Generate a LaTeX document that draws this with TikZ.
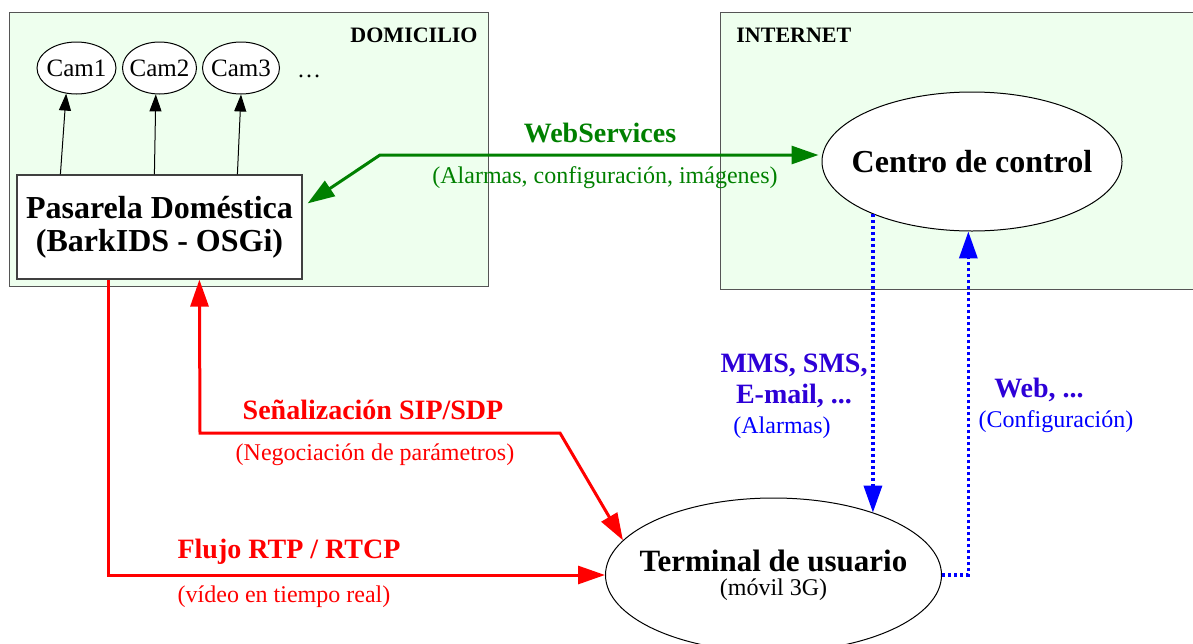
\documentclass[tikz,border=0pt]{standalone}
\usepackage{fontspec}
\setmainfont{Liberation Serif}
\usetikzlibrary{arrows.meta,shapes.geometric,calc}
\definecolor{clfill}{RGB}{238,255,238}
\definecolor{clline}{RGB}{85,85,85}
\definecolor{gvgreen}{RGB}{0,128,0}
\definecolor{gvred}{RGB}{255,0,0}
\definecolor{gvblue}{RGB}{0,0,255}
\definecolor{lblblue}{RGB}{45,0,215}
\begin{document}
\begin{tikzpicture}[x=0.5pt,y=-0.5pt,
  cluster/.style={draw=clline, fill=clfill, line width=0.6pt, anchor=north west, inner sep=0pt},
  clusterlbl/.style={font=\fontsize{11}{13}\selectfont\bfseries, inner sep=0pt},
  cam/.style={ellipse, draw=black, fill=white, line width=0.5pt, inner sep=0pt,
    minimum height=26pt},
  camtext/.style={font=\fontsize{12.5}{14}\selectfont, inner sep=0pt},
  mainbox/.style={rectangle, draw=black!75, fill=white, line width=0.6pt, inner sep=0pt,
    align=center, font=\fontsize{16}{16.5}\selectfont\bfseries},
  mainell/.style={ellipse, draw=black, fill=white, line width=0.5pt, inner sep=0pt},
  elltext/.style={inner sep=0pt, align=center},
  boldlbl/.style={font=\fontsize{14}{15.5}\selectfont\bfseries, inner sep=0pt, anchor=base},
  plainlbl/.style={font=\fontsize{12}{14}\selectfont, inner sep=0pt, anchor=base},
  camarrow/.style={draw=black, line width=0.5pt, -{Triangle[length=8.5pt,width=6pt]}},
  greenline/.style={draw=gvgreen, line width=1.5pt},
  redline/.style={draw=gvred, line width=1.5pt},
  blueline/.style={draw=gvblue, line width=1.7pt, dash pattern=on 1.5pt off 1.5pt}
]
\useasboundingbox (0,0) rectangle (1193,643);

% clusters
\node (dom) [cluster, minimum width=239.5pt, minimum height=137pt] at (9,12) {};
\node (domlbl) [clusterlbl, anchor=base east] at (478,42) {DOMICILIO};
\node (inet) [cluster, minimum width=237pt, minimum height=138.5pt] at (720,12) {};
\node (inetlbl) [clusterlbl, anchor=base west] at (736,42) {INTERNET};

% nodes
\node (cam1) [cam, minimum width=39.5pt,
  label={[camtext]center:Cam1}] at (76.5,68) {};
\node (cam2) [cam, minimum width=37pt,
  label={[camtext]center:Cam2}] at (159.5,68) {};
\node (cam3) [cam, minimum width=38.5pt,
  label={[camtext]center:Cam3}] at (241,68) {};
\node (dots) [plainlbl] at (309,77) {…};
\node (pas) [mainbox, minimum width=142.5pt, minimum height=52pt] at (159.5,227)
  {Pasarela Doméstica\\(BarkIDS - OSGi)};
\node (ctr) [mainell, minimum width=150pt, minimum height=69.5pt,
  label={[elltext, font=\fontsize{16}{18}\selectfont\bfseries]center:Centro de control}]
  at (972,161.5) {};
\node (term) [mainell, minimum width=168pt, minimum height=77pt,
  label={[elltext]center:{\fontsize{15.5}{13}\selectfont\bfseries Terminal de usuario\\
   \fontsize{12}{13}\selectfont (móvil 3G)}}] at (773.5,575) {};

% camera connectors
\draw[camarrow] ($(pas.north west)+(44,0)$) -- (cam1.248);
\draw[camarrow] ($(pas.north west)+(138,0)$) -- (cam2.262);
\draw[camarrow] ($(pas.north west)+(221,0)$) -- (cam3.south);

% green web services
\coordinate (g1) at (380,155);
\draw[greenline, {Triangle[length=13.5pt,width=9pt]}-{Triangle[length=13.5pt,width=9pt]}]
  ($(pas.north east)+(5,29)$) -- (g1) -- ($(g1 -| ctr.west)+(-3,0)$);
\node (wslbl) [boldlbl, text=gvgreen] at (600,142) {WebServices};
\node (wssub) [plainlbl, text=gvgreen] at (605,183) {(Alarmas, configuración, imágenes)};

% red RTP
\draw[redline, -{Triangle[length=13.5pt,width=9pt]}]
  ($(pas.south west)+(92,0)$) |- (term.west);
\node (rtplbl) [boldlbl, text=gvred] at (289,558) {Flujo RTP / RTCP};
\node (rtpsub) [plainlbl, text=gvred] at (284,602) {(vídeo en tiempo real)};

% red SIP
\coordinate (r1) at (200,433);
\coordinate (r2) at (560,433);
\draw[redline, {Triangle[length=13.5pt,width=9pt]}-{Triangle[length=13.5pt,width=9pt]}]
  ($(pas.south west)+(183,0)$) -- (r1) -- (r2) -- (term.167);
\node (siplbl) [boldlbl, text=gvred] at (373,419) {Señalización SIP/SDP};
\node (sipsub) [plainlbl, text=gvred] at (375,460) {(Negociación de parámetros)};

% blue alarms
\draw[blueline, -{Triangle[length=13.5pt,width=9pt]}]
  (ctr.208) -- (ctr.208 |- term.32);
\node (mmslbl) [boldlbl, text=lblblue] at (794,372) {MMS, SMS,};
\node (maillbl) [boldlbl, text=lblblue] at (794,403) {E-mail, ...};
\node (alsub) [plainlbl, text=gvblue] at (782,433) {(Alarmas)};

% blue web config
\draw[blueline, -{Triangle[length=13.5pt,width=9pt]}]
  (term.east) -| (ctr.267);
\node (weblbl) [boldlbl, text=lblblue] at (1039,397) {Web, ...};
\node (websub) [plainlbl, text=gvblue] at (1056,427) {(Configuración)};
\end{tikzpicture}
\end{document}
